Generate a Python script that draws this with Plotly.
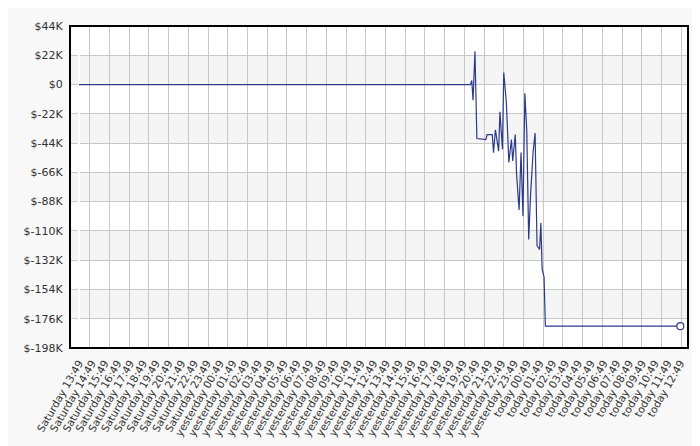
import plotly.graph_objects as go

tick_labels = (["Saturday %02d:49" % h for h in range(13, 24)]
               + ["yesterday %02d:49" % h for h in range(0, 24)]
               + ["today %02d:49" % h for h in range(0, 13)])
tick_hours = list(range(len(tick_labels)))

hours = [0, 30.6, 30.7, 30.8, 30.95, 31.1, 31.8, 31.9, 32.3, 32.4, 32.55, 32.8, 32.9, 33.1,
         33.2, 33.4, 33.6, 33.8, 33.9, 34.1, 34.2, 34.4, 34.55, 34.7, 34.85, 35.0, 35.15,
         35.3, 35.5, 35.65, 35.8, 36.0, 36.1, 36.2, 36.35, 36.45, 47.0]
values = [0, 0, 3000, -11800, 25000, -40600, -41300, -37600, -37600, -51200, -34000, -50000,
          -20400, -48700, 9000, -13000, -58500, -41300, -57400, -37600, -67200, -94300, -51000,
          -99000, -6600, -35200, -116500, -82000, -50000, -36400, -121000, -124000, -104000,
          -138500, -144700, -181600, -181600]

y_ticks = list(range(-198000, 44001, 22000))

def fmt(v):
    return "$0" if v == 0 else ("$%dK" % (v // 1000) if v > 0 else "$-%dK" % (-v // 1000))

fig = go.Figure()
for i, lo in enumerate(y_ticks[:-1]):
    if i % 2 == 1:
        fig.add_shape(type="rect", xref="paper", yref="y", x0=0, x1=1, y0=lo, y1=lo + 22000,
                      fillcolor="#f5f5f5", line_width=0, layer="below")
fig.add_shape(type="rect", xref="paper", yref="paper", x0=0, x1=1, y0=0, y1=1,
              line=dict(color="black", width=2), layer="above")

fig.add_trace(go.Scatter(x=hours, y=values, mode="lines", line=dict(color="#2c3a8c", width=1.2),
                         hoverinfo="skip"))
fig.add_trace(go.Scatter(x=[hours[-1]], y=[values[-1]], mode="markers",
                         marker=dict(size=7, color="white", line=dict(color="#2c3a8c", width=1.2))))

fig.update_layout(
    width=700, height=446, showlegend=False,
    paper_bgcolor="#f8f8f8", plot_bgcolor="white",
    margin=dict(l=62, r=20, t=14, b=106),
    font=dict(family="DejaVu Sans", size=11, color="#333"),
)
fig.update_xaxes(range=[-0.7, 47.6], tickvals=tick_hours, ticktext=tick_labels, tickangle=-60,
                 showgrid=False, showline=False, ticks="outside", ticklen=4,
                 tickcolor="rgba(0,0,0,0)", tickfont=dict(size=10.5),
                 minor=dict(tick0=-0.7, dtick=1.541, showgrid=True, gridcolor="#c8c8c8", gridwidth=1))
fig.update_yaxes(range=[-198000, 44000], tickvals=y_ticks, ticktext=[fmt(v) for v in y_ticks],
                 showgrid=True, gridcolor="#c8c8c8", zeroline=False, showline=False,
                 ticks="outside", ticklen=4, tickcolor="rgba(0,0,0,0)")
fig.write_html("out.html")
